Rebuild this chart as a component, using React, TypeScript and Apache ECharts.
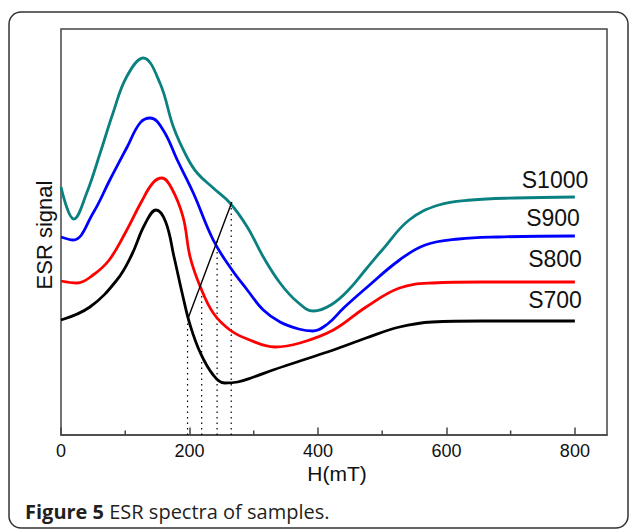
import React, { useEffect, useRef } from "react";
import * as echarts from "echarts";

// x in mT, y in arbitrary signal units
const s1000: [number, number][] = [
  [0, 248], [20, 216], [40, 242], [61, 282], [81, 322], [102, 358], [128, 377], [154, 352],
  [175, 308], [196, 278], [212, 262], [237, 247], [263, 232], [290, 208], [315, 178],
  [341, 152], [368, 133], [393, 124], [420, 130], [449, 146], [475, 166], [500, 185],
  [542, 215], [588, 230], [639, 235], [706, 237], [800, 238],
];
const s900: [number, number][] = [
  [0, 198], [19, 195], [50, 222], [76, 255], [103, 288], [123, 312], [139, 317], [159, 305],
  [181, 275], [206, 242], [237, 195], [263, 168], [290, 145], [315, 125], [341, 113],
  [370, 106], [392, 104], [415, 111], [440, 127], [475, 147], [527, 175], [567, 190],
  [619, 196], [680, 198], [800, 199],
];
const s800: [number, number][] = [
  [0, 154], [25, 152], [50, 160], [75, 175], [100, 202], [125, 233], [143, 252], [157, 257],
  [172, 247], [190, 218], [201, 178], [217, 148], [237, 122], [263, 105], [290, 96],
  [333, 88], [372, 92], [424, 105], [475, 128], [527, 147], [578, 152], [655, 153], [800, 153],
];
const s700: [number, number][] = [
  [0, 115], [45, 128], [87, 155], [110, 180], [130, 210], [148, 225], [163, 213], [176, 178],
  [190, 138], [201, 110], [217, 82], [237, 60], [255, 52], [275, 53], [300, 58], [330, 65],
  [372, 74], [424, 85], [475, 97], [527, 108], [578, 113], [655, 114], [800, 114],
];
const diagonal: [number, number][] = [[198, 117], [266, 233]];
const dropX = [197, 219, 243, 265];
const dropTop = [117, 148, 195, 232];

const majorTicks = [0, 200, 400, 600, 800];
const minorTicks = [100, 300, 500, 700];
const seriesNames = ["S1000", "S900", "S800", "S700"];
const seriesColors = ["#0b8080", "#0000ff", "#ff0000", "#000000"];

export default function App() {
  const ref = useRef<HTMLDivElement>(null);
  useEffect(() => {
    if (!ref.current) return;
    const chart = echarts.init(ref.current, undefined, { renderer: "svg" });
    const curves = [s1000, s900, s800, s700];
    const series: any[] = curves.map((d, i) => ({
      type: "line",
      name: seriesNames[i],
      data: d,
      smooth: 0.4,
      showSymbol: false,
      lineStyle: { color: seriesColors[i], width: 2.8 },
      z: 3,
    }));
    series.push({
      type: "line",
      data: diagonal,
      showSymbol: false,
      lineStyle: { color: "#000", width: 1.4 },
      z: 4,
    });
    dropX.forEach((x, i) => {
      series.push({
        type: "line",
        data: [[x, 0], [x, dropTop[i]]],
        showSymbol: false,
        lineStyle: { color: "#000", width: 1.2, type: [1.5, 4] },
        z: 2,
      });
    });
    // minor ticks on the bottom axis
    series.push({
      type: "custom",
      data: minorTicks.map((v) => [v, 0]),
      silent: true,
      z: 5,
      renderItem: (params: any, api: any) => {
        const p = api.coord([api.value(0), 0]);
        return {
          type: "line",
          shape: { x1: p[0], y1: p[1], x2: p[0], y2: p[1] - 4.5 },
          style: { stroke: "#444", lineWidth: 1.5 },
        };
      },
    });

    const labelPos = [
      [555, 180],
      [553, 218],
      [555, 259],
      [555, 300],
    ];

    chart.setOption({
      animation: false,
      grid: {
        left: 61,
        top: 29,
        right: 22,
        bottom: 95,
        show: true,
        borderColor: "#444",
        borderWidth: 1.5,
        backgroundColor: "transparent",
      },
      xAxis: {
        type: "value",
        min: 0,
        max: 850,
        position: "bottom",
        splitLine: { show: false },
        axisLine: { show: true, lineStyle: { color: "#444", width: 1.5 } },
        axisTick: {
          show: true,
          inside: true,
          length: 7.5,
          customValues: majorTicks,
          lineStyle: { color: "#444", width: 1.5 },
        },
        axisLabel: {
          customValues: majorTicks,
          margin: 7,
          fontSize: 18,
          color: "#111",
          fontFamily: "Liberation Sans",
        },
      },
      yAxis: {
        type: "value",
        min: 0,
        max: 406,
        axisLine: { show: false },
        axisTick: { show: false },
        axisLabel: { show: false },
        splitLine: { show: false },
      },
      series,
      graphic: [
        {
          type: "rect",
          shape: { x: 9, y: 12, width: 619, height: 516, r: 12 },
          style: { fill: "none", stroke: "#333", lineWidth: 1.5 },
          silent: true,
        },
        {
          type: "text",
          x: 44,
          y: 235,
          rotation: Math.PI / 2,
          style: {
            text: "ESR signal",
            fontSize: 22,
            fontFamily: "Liberation Sans",
            fill: "#111",
            textAlign: "center",
            textVerticalAlign: "middle",
          },
        },
        {
          type: "text",
          x: 337,
          y: 473,
          style: {
            text: "H(mT)",
            fontSize: 21,
            fontFamily: "Liberation Sans",
            fill: "#111",
            textAlign: "center",
            textVerticalAlign: "middle",
          },
        },
        ...seriesNames.map((n, i) => ({
          type: "text",
          x: labelPos[i][0],
          y: labelPos[i][1],
          style: {
            text: n,
            fontSize: 23,
            fontFamily: "Liberation Sans",
            fill: "#111",
            textAlign: "center",
            textVerticalAlign: "middle",
          },
        })),
        {
          type: "text",
          x: 25,
          y: 511,
          style: {
            text: "{b|Figure 5} ESR spectra of samples.",
            fontSize: 20,
            fontFamily: "Open Sans",
            fill: "#231f20",
            textVerticalAlign: "middle",
            rich: {
              b: { fontWeight: "bold", fontSize: 20, fontFamily: "Open Sans", fill: "#231f20" },
            },
          },
        },
      ],
    });
    return () => chart.dispose();
  }, []);
  return (
    <div
      ref={ref}
      style={{ position: "fixed", left: 0, top: 0, width: 629, height: 530, background: "#fff" }}
    />
  );
}
